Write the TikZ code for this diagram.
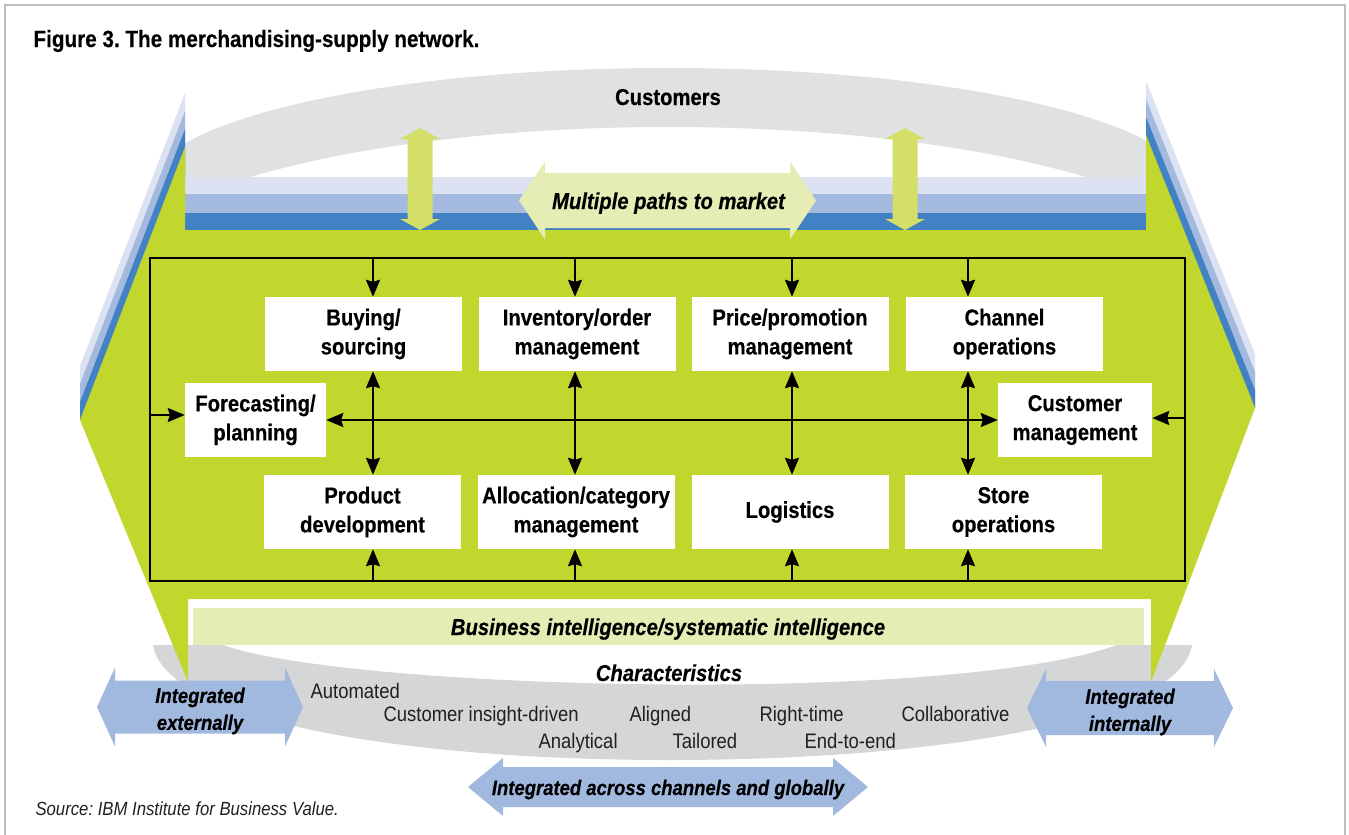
\documentclass[tikz,border=0pt]{standalone}
\usepackage{fontspec}
\setmainfont{Liberation Sans}[FakeStretch=0.88,
  BoldFeatures={FakeBold=0.4}, BoldItalicFeatures={FakeBold=0.4}]
\usepackage{tikz}
\usetikzlibrary{arrows.meta}
\frenchspacing

\definecolor{leaf}{HTML}{C2D72E}
\definecolor{leafpale}{HTML}{E5EDB5}
\definecolor{leaflight}{HTML}{D3DF67}
\definecolor{fog}{HTML}{E0E1E3}
\definecolor{fogdark}{HTML}{D5D6D8}
\definecolor{bandA}{HTML}{DCE2F2}
\definecolor{bandB}{HTML}{A3B9DD}
\definecolor{bandC}{HTML}{4281C4}
\definecolor{sky}{HTML}{A2B9DF}
\definecolor{ink}{HTML}{231F20}
\definecolor{frame}{HTML}{BDBDBD}

\newcommand\bigbf{\fontsize{23}{29}\selectfont\bfseries}
\newcommand\bigit{\fontsize{23}{29}\selectfont\bfseries\itshape}
\newcommand\smallit{\fontsize{21}{27}\selectfont\bfseries\itshape}
\newcommand\plain{\fontsize{21}{27}\selectfont}
\newcommand\srcfont{\fontsize{19}{23}\selectfont\itshape}

% fill, left tip, right tip, mid y, half shaft, half head, head length
\newcommand\flatarrow[7]{%
  \fill[#1] (#2,#4) -- (#2+#7,#4-#6) -- (#2+#7,#4-#5) -- (#3-#7,#4-#5) -- (#3-#7,#4-#6)
    -- (#3,#4) -- (#3-#7,#4+#6) -- (#3-#7,#4+#5) -- (#2+#7,#4+#5) -- (#2+#7,#4+#6) -- cycle;}

\begin{document}
\begin{tikzpicture}[x=1pt,y=-1pt,
  unit/.style={fill=white, inner sep=0pt, minimum width=197pt, minimum height=74pt, align=center, font=\bigbf},
  flow/.style={line width=2.2pt, -{Stealth[length=17pt,width=14pt,inset=2pt]}},
  both/.style={line width=2.2pt, {Stealth[length=17pt,width=14pt,inset=2pt]}-{Stealth[length=17pt,width=14pt,inset=2pt]}},
  trait/.style={anchor=base west, font=\plain, text=ink}]
\useasboundingbox (0,0) rectangle (1349,835);
\draw[frame, line width=1.5pt] (5,850) -- (5,5) -- (1345,5) -- (1345,850);

% customers arc
\begin{scope}
\clip (185,0) rectangle (1146,177);
\fill[fog, even odd rule] (668,188) ellipse [x radius=520, y radius=120]
  (668,277) ellipse [x radius=560, y radius=150];
\end{scope}
\foreach \dd/\cl in {54/bandA,36/bandB,18/bandC} {
  \fill[\cl] (185,147-\dd) -- (80,420-\dd) -- (80,420) -- (185,420) -- cycle;
  \fill[\cl] (1146,135-\dd) -- (1255,408-\dd) -- (1255,408) -- (1146,408) -- cycle;
}
\fill[bandA] (185,177) rectangle (1146,194);
\fill[bandB] (185,194) rectangle (1146,213);
\fill[bandC] (185,213) rectangle (1146,230);

% characteristics arc
\fill[fogdark] (153,645) -- (223,645) .. controls (350,690) and (950,705) .. (1117,645)
  -- (1192,645) .. controls (1180,720) and (940,760) .. (670,760)
  .. controls (400,760) and (165,720) .. (153,645) -- cycle;

\fill[leaf] (185,147) -- (80,420) -- (188,682) -- (188,599) -- (1151,599) -- (1151,682)
  -- (1255,408) -- (1146,135) -- (1146,230) -- (185,230) -- cycle;

\foreach \ax in {420,905}
  \fill[leaflight, shift={(\ax,0)}] (-12.5,139) -- (-20,139) -- (0,128) -- (20,139) -- (12.5,139)
    -- (12.5,219) -- (20,219) -- (0,230) -- (-20,219) -- (-12.5,219) -- cycle;

\flatarrow{leafpale}{519}{816}{200.5}{27.5}{39}{26}
\node[anchor=base, font=\bigit] (paths) at (668.5,209) {Multiple paths to market};
\node[anchor=base, font=\bigbf] (cust0) at (668,105) {Customers};

\fill[leafpale] (193,608) rectangle (1144,645);
\node[anchor=base, font=\bigit] (bi) at (668,635) {Business intelligence/systematic intelligence};

\node[draw, line width=2.2pt, minimum width=1035pt, minimum height=323pt, inner sep=0pt] (net) at (667.5,419.5) {};
\node[unit] (buy) at (363.5,334) {Buying/\\sourcing};
\node[unit] (inv) at (577,334) {Inventory/order\\management};
\node[unit] (price) at (790,334) {Price/promotion\\management};
\node[unit] (chan) at (1004.5,334) {Channel\\operations};
\node[unit] (prod) at (362.5,512) {Product\\development};
\node[unit] (alloc) at (576,512) {Allocation/category\\management};
\node[unit] (logi) at (790,512) {Logistics};
\node[unit] (store) at (1003.5,512) {Store\\operations};
\node[unit, minimum width=141pt] (fore) at (255.5,420) {Forecasting/\\planning};
\node[unit, minimum width=154pt] (cust) at (1075,420) {Customer\\management};

\coordinate (k1) at (373,0);
\coordinate (k2) at (575,0);
\coordinate (k3) at (792,0);
\coordinate (k4) at (968,0);
\foreach \k/\a/\b in {k1/buy/prod,k2/inv/alloc,k3/price/logi,k4/chan/store} {
  \draw[flow] (net.north -| \k) -- (\a.north -| \k);
  \draw[flow] (net.south -| \k) -- (\b.south -| \k);
  \draw[both] (\a.south -| \k) -- (\b.north -| \k);
}
\draw[both] (fore.east) -- (cust.west);
\draw[flow] ([yshift=5pt]net.west |- fore.west) -- ([yshift=5pt]fore.west);
\draw[flow] ([yshift=2pt]net.east |- cust.east) -- ([yshift=2pt]cust.east);

\node[anchor=base, font=\bigit] (traits) at (669,681) {Characteristics};
\node[trait] (t1) at (307,698) {Automated};
\node[trait] (t2) at (380,721) {Customer insight-driven};
\node[trait] (t3) at (626,721) {Aligned};
\node[trait] (t4) at (756,721) {Right-time};
\node[trait] (t5) at (898,721) {Collaborative};
\node[trait] (t6) at (535,748) {Analytical};
\node[trait] (t7) at (669,748) {Tailored};
\node[trait] (t8) at (801,748) {End-to-end};

\flatarrow{sky}{97}{303}{707}{26.5}{39.5}{18}
\flatarrow{sky}{1027}{1233}{708}{27}{39}{19}
\flatarrow{sky}{468}{868}{787}{20}{29}{35}
\node[align=center, font=\smallit] (ext) at (200,711) {Integrated\\externally};
\node[align=center, font=\smallit] (int) at (1130,712) {Integrated\\internally};
\node[anchor=base, font=\smallit] (glob) at (668,795) {Integrated across channels and globally};

\node[anchor=base west, font=\fontsize{23.5}{28}\selectfont\bfseries] (title) at (30,47) {Figure 3. The merchandising-supply network.};
\node[anchor=base west, font=\srcfont, text=ink] (src) at (32,815) {Source: IBM Institute for Business Value.};
\end{tikzpicture}
\end{document}
